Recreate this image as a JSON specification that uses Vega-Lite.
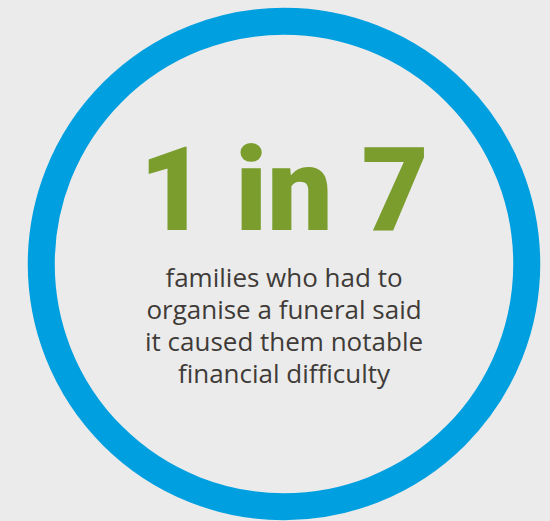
{
  "$schema": "https://vega.github.io/schema/vega-lite/v6.json",
  "width": 550,
  "height": 521,
  "autosize": {"type": "none"},
  "padding": 0,
  "background": "#ebebeb",
  "config": {"view": {"stroke": null}},
  "datasets": {
    "ring": [{"label": "ring", "cx": 284, "cy": 264}],
    "headline": [{"text": "1 in 7", "cx": 284, "cy": 230}],
    "desc": [{"text": "families who had to\norganise a funeral said\nit caused them notable\nfinancial difficulty", "cx": 284, "cy": 287}]
  },
  "layer": [
    {
      "data": {"name": "ring"},
      "mark": {"type": "point", "shape": "circle", "filled": false, "stroke": "#009fdf", "strokeWidth": 27, "size": 235700, "opacity": 1},
      "encoding": {
        "x": {"field": "cx", "type": "quantitative", "scale": {"domain": [0, 550], "nice": false, "zero": false}, "axis": null},
        "y": {"field": "cy", "type": "quantitative", "scale": {"domain": [0, 521], "nice": false, "zero": false, "reverse": true}, "axis": null}
      }
    },
    {
      "data": {"name": "headline"},
      "mark": {"type": "text", "font": "Roboto", "fontWeight": 900, "fontSize": 116, "color": "#7a9d2d", "align": "center", "baseline": "alphabetic"},
      "encoding": {
        "x": {"field": "cx", "type": "quantitative", "scale": {"domain": [0, 550], "nice": false, "zero": false}, "axis": null},
        "y": {"field": "cy", "type": "quantitative", "scale": {"domain": [0, 521], "nice": false, "zero": false, "reverse": true}, "axis": null},
        "text": {"field": "text"}
      }
    },
    {
      "data": {"name": "desc"},
      "mark": {"type": "text", "font": "Open Sans", "fontSize": 26, "color": "#3f3b38", "align": "center", "baseline": "alphabetic", "lineBreak": "\n", "lineHeight": 32},
      "encoding": {
        "x": {"field": "cx", "type": "quantitative", "scale": {"domain": [0, 550], "nice": false, "zero": false}, "axis": null},
        "y": {"field": "cy", "type": "quantitative", "scale": {"domain": [0, 521], "nice": false, "zero": false, "reverse": true}, "axis": null},
        "text": {"field": "text"}
      }
    }
  ]
}
